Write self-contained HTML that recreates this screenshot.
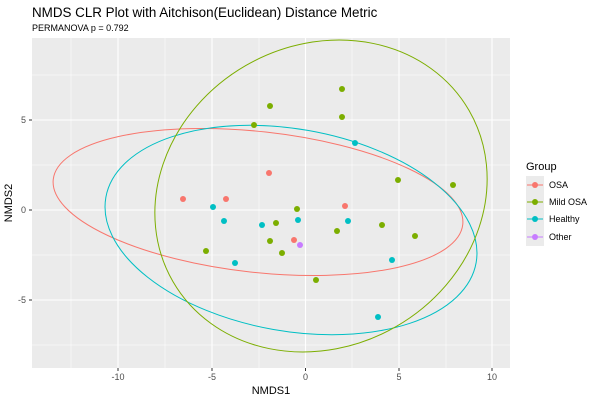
<!DOCTYPE html>
<html><head><style>body{margin:0;background:#fff}svg{display:block}</style></head><body>
<svg width="600" height="400" xmlns="http://www.w3.org/2000/svg" font-family="Liberation Sans, DejaVu Sans, sans-serif">
<rect width="600" height="400" fill="#fff"/>
<text x="32" y="17" font-size="13.4" fill="#000">NMDS CLR Plot with Aitchison(Euclidean) Distance Metric</text>
<text x="32" y="31" font-size="9" fill="#000">PERMANOVA p = 0.792</text>
<rect x="32" y="38" width="478" height="330" fill="#ebebeb"/>
<g stroke="#fff" stroke-width="0.5">
<line x1="71" y1="38" x2="71" y2="368"/><line x1="165" y1="38" x2="165" y2="368"/><line x1="259" y1="38" x2="259" y2="368"/><line x1="352" y1="38" x2="352" y2="368"/><line x1="446" y1="38" x2="446" y2="368"/>
<line x1="32" y1="75" x2="510" y2="75"/><line x1="32" y1="165" x2="510" y2="165"/><line x1="32" y1="255" x2="510" y2="255"/><line x1="32" y1="345" x2="510" y2="345"/>
</g>
<g stroke="#fff" stroke-width="1.1">
<line x1="118" y1="38" x2="118" y2="368"/><line x1="212" y1="38" x2="212" y2="368"/><line x1="305.5" y1="38" x2="305.5" y2="368"/><line x1="399" y1="38" x2="399" y2="368"/><line x1="492" y1="38" x2="492" y2="368"/>
<line x1="32" y1="120" x2="510" y2="120"/><line x1="32" y1="210" x2="510" y2="210"/><line x1="32" y1="300" x2="510" y2="300"/>
</g>
<g fill="none" stroke-width="1">
<ellipse cx="258" cy="202" rx="206" ry="70.4" transform="rotate(6.3 258 202)" stroke="#F8766D"/>
<ellipse cx="291" cy="230" rx="188" ry="101" transform="rotate(10 291 230)" stroke="#00BFC4"/>
<ellipse cx="321" cy="196" rx="171" ry="150.6" transform="rotate(-30 321 196)" stroke="#7CAE00"/>
</g>
<g fill="#7CAE00">
<circle cx="270" cy="106" r="3"/><circle cx="342" cy="117" r="3"/><circle cx="254" cy="125" r="3"/><circle cx="342" cy="89" r="3"/><circle cx="398" cy="180" r="3"/><circle cx="453" cy="185" r="3"/><circle cx="297" cy="209" r="3"/><circle cx="276" cy="223" r="3"/><circle cx="270" cy="241" r="3"/><circle cx="382" cy="225" r="3"/><circle cx="206" cy="251" r="3"/><circle cx="282" cy="253" r="3"/><circle cx="415" cy="236" r="3"/><circle cx="316" cy="280" r="3"/><circle cx="337" cy="231" r="3"/>
</g>
<g fill="#F8766D">
<circle cx="269" cy="173" r="3"/><circle cx="183" cy="199" r="3"/><circle cx="226" cy="199" r="3"/><circle cx="345" cy="206" r="3"/><circle cx="294" cy="240" r="3"/>
</g>
<g fill="#00BFC4">
<circle cx="355" cy="143" r="3"/><circle cx="213" cy="207" r="3"/><circle cx="224" cy="221" r="3"/><circle cx="262" cy="225" r="3"/><circle cx="298" cy="220" r="3"/><circle cx="348" cy="221" r="3"/><circle cx="235" cy="263" r="3"/><circle cx="392" cy="260" r="3"/><circle cx="378" cy="317" r="3"/>
</g>
<circle cx="300" cy="245" r="3" fill="#C77CFF"/>
<g stroke="#333" stroke-width="1">
<line x1="29" y1="120" x2="32" y2="120"/><line x1="29" y1="210" x2="32" y2="210"/><line x1="29" y1="300" x2="32" y2="300"/>
<line x1="118" y1="368" x2="118" y2="371"/><line x1="212" y1="368" x2="212" y2="371"/><line x1="305.5" y1="368" x2="305.5" y2="371"/><line x1="399" y1="368" x2="399" y2="371"/><line x1="492" y1="368" x2="492" y2="371"/>
</g>
<g font-size="9" fill="#4d4d4d">
<text x="26" y="123" text-anchor="end">5</text><text x="26" y="213" text-anchor="end">0</text><text x="26" y="303" text-anchor="end">-5</text>
<text x="118" y="380" text-anchor="middle">-10</text><text x="212" y="380" text-anchor="middle">-5</text><text x="305.5" y="380" text-anchor="middle">0</text><text x="399" y="380" text-anchor="middle">5</text><text x="492" y="380" text-anchor="middle">10</text>
</g>
<text x="271" y="394" font-size="11" text-anchor="middle">NMDS1</text>
<text x="12" y="203" font-size="11" text-anchor="middle" transform="rotate(-90 12 203)">NMDS2</text>
<text x="526" y="170" font-size="11">Group</text>
<rect x="526" y="176" width="18" height="70" fill="#ebebeb"/>
<g stroke-width="1">
<line x1="527" y1="185" x2="543" y2="185" stroke="#F8766D"/><circle cx="535" cy="185" r="3" fill="#F8766D"/>
<line x1="527" y1="202" x2="543" y2="202" stroke="#7CAE00"/><circle cx="535" cy="202" r="3" fill="#7CAE00"/>
<line x1="527" y1="219" x2="543" y2="219" stroke="#00BFC4"/><circle cx="535" cy="219" r="3" fill="#00BFC4"/>
<line x1="527" y1="237" x2="543" y2="237" stroke="#C77CFF"/><circle cx="535" cy="237" r="3" fill="#C77CFF"/>
</g>
<g font-size="9" fill="#000">
<text x="549" y="188">OSA</text><text x="549" y="205">Mild OSA</text><text x="549" y="222">Healthy</text><text x="549" y="240">Other</text>
</g>
</svg>
</body></html>
